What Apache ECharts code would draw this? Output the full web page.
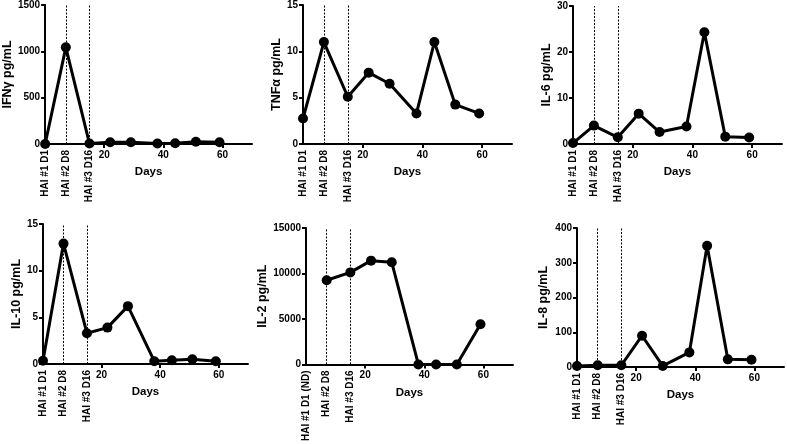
<!DOCTYPE html>
<html>
<head>
<meta charset="utf-8">
<script src="https://cdn.jsdelivr.net/npm/echarts@6/dist/echarts.min.js"></script>
<style>
html,body{margin:0;padding:0;background:#fff;}
#c{width:787px;height:444px;}
</style>
</head>
<body>
<div id="c"></div>
<script>
// ---- data ----
const days = [0, 7, 15, 22, 29, 38, 44, 51, 59];
const ifng = [0, 1043, 5, 18, 18, 5, 8, 25, 18];
const tnfa = [2.75, 11.0, 5.1, 7.7, 6.5, 3.3, 11.0, 4.25, 3.3];
const il6  = [0.2, 4.0, 1.45, 6.6, 2.6, 3.8, 24.3, 1.6, 1.4];
const il10 = [0.35, 12.9, 3.3, 3.9, 6.2, 0.3, 0.4, 0.5, 0.3];
const il2  = [null, 9260, 10120, 11410, 11230, 0, 0, 0, 4410];
const il8  = [3, 5, 5, 90, 3, 42, 349, 22, 21];

const yNames = ['IFN\u03b3 pg/mL', 'TNF\u03b1 pg/mL', 'IL-6 pg/mL', 'IL-10 pg/mL', 'IL-2 pg/mL', 'IL-8 pg/mL'];
const yMax = [1500, 15, 30, 15, 15000, 400];
const yStep = [500, 5, 10, 5, 5000, 100];
const haiDays = [0, 7, 15];
const haiLabels = ['HAI #1 D1', 'HAI #2 D8', 'HAI #3 D16'];
const haiLabelsND = ['HAI #1 D1 (ND)', 'HAI #2 D8', 'HAI #3 D16'];
const vaccineLines = [7, 15];
const dayTicks = [20, 40, 60];
const xMin = 0, xMax = 70;

// ---- layout ----
const grids = [
  {left: 43, top: 5, width: 209, height: 139},
  {left: 303, top: 4, width: 209, height: 140},
  {left: 573, top: 6, width: 209, height: 138},
  {left: 43, top: 224, width: 205, height: 140},
  {left: 306, top: 228, width: 207, height: 139},
  {left: 577, top: 228, width: 207, height: 139}
];
const nameGaps = [28, 19, 19, 19, 37, 27];
const seriesData = [ifng, tnfa, il6, il10, il2, il8];

const FONT = '"Liberation Sans", Arial, sans-serif';
const lbl = {color: '#000', fontFamily: FONT, fontWeight: 'bold', fontSize: 10};

const xAxis = [], yAxis = [], series = [];
grids.forEach((g, i) => {
  const labs = i === 4 ? haiLabelsND : haiLabels;
  xAxis.push({
    type: 'value', gridIndex: i, min: xMin, max: xMax, position: 'bottom',
    name: 'Days', nameLocation: 'middle', nameGap: 22,
    nameTextStyle: {color: '#000', fontFamily: FONT, fontWeight: 'bold', fontSize: 11.5},
    axisLine: {show: true, onZero: false, lineStyle: {color: '#000', width: 2}},
    axisTick: {show: true, length: 4, customValues: dayTicks, lineStyle: {color: '#000', width: 2}},
    axisLabel: Object.assign({customValues: dayTicks, margin: 6, formatter: v => String(v)}, lbl),
    splitLine: {show: false}
  });
  xAxis.push({
    type: 'value', gridIndex: i, min: xMin, max: xMax, position: 'bottom',
    axisLine: {show: false, onZero: false},
    axisTick: {show: false},
    axisLabel: Object.assign({
      customValues: haiDays, rotate: 90, margin: 6,
      formatter: v => labs[haiDays.indexOf(v)]
    }, lbl),
    splitLine: {show: false}
  });
  yAxis.push({
    type: 'value', gridIndex: i, min: 0, max: yMax[i], interval: yStep[i],
    name: yNames[i], nameLocation: 'middle', nameGap: nameGaps[i],
    nameTextStyle: {color: '#000', fontFamily: FONT, fontWeight: 'bold', fontSize: 12.5},
    axisLine: {show: true, lineStyle: {color: '#000', width: 2}},
    axisTick: {show: true, length: 4, lineStyle: {color: '#000', width: 2}},
    axisLabel: Object.assign({margin: 5, formatter: v => String(v)}, lbl),
    splitLine: {show: false}
  });
  series.push({
    type: 'line', xAxisIndex: i * 2, yAxisIndex: i,
    data: days.map((d, k) => [d, seriesData[i][k]]),
    symbol: 'circle', symbolSize: 10, showSymbol: true,
    lineStyle: {color: '#000', width: 3},
    itemStyle: {color: '#000'},
    connectNulls: false, animation: false, z: 3,
    markLine: {
      silent: true, symbol: 'none', animation: false,
      label: {show: false},
      lineStyle: {color: '#000', type: [2, 1.5], width: 1},
      data: vaccineLines.map(v => ({xAxis: v}))
    }
  });
});

const chart = echarts.init(document.getElementById('c'), null, {renderer: 'canvas'});
chart.setOption({
  backgroundColor: '#fff',
  animation: false,
  grid: grids.map(g => Object.assign({containLabel: false}, g)),
  xAxis, yAxis, series
});
</script>
</body>
</html>
